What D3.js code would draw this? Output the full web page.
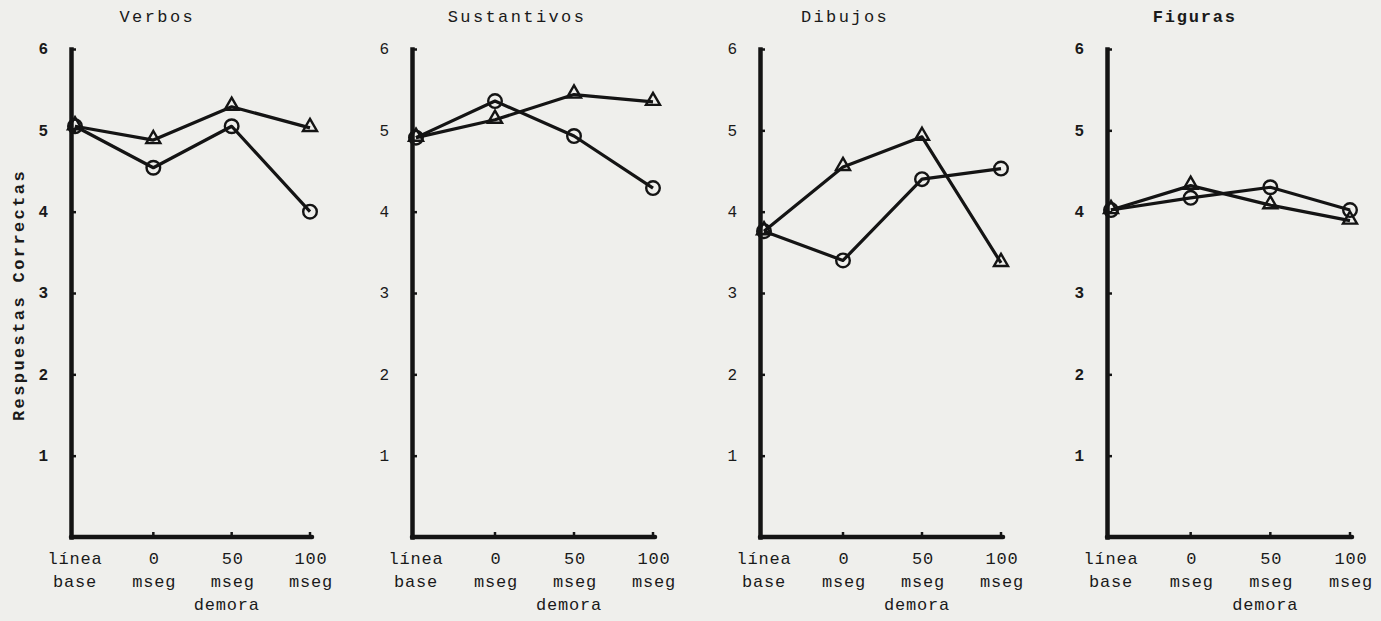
<!DOCTYPE html>
<html>
<head>
<meta charset="utf-8">
<script src="https://cdn.jsdelivr.net/npm/d3@7"></script>
<style>
  html, body { margin: 0; padding: 0; background: #efefec; }
  svg { display: block; }
  text { font-family: "Liberation Mono", "DejaVu Sans Mono", monospace; fill: #1a1a1a; }
</style>
</head>
<body>
<svg id="chart" width="1381" height="621"></svg>
<script>
// Panel titles
const panels = ["Verbos", "Sustantivos", "Dibujos", "Figuras"];

// Delay conditions (two-line tick labels)
const categories = ["base", "0", "50", "100"];
const catLine1 = ["línea", "0", "50", "100"];
const catLine2 = ["base", "mseg", "mseg", "mseg"];

// y-axis ticks
const yTicks = [1, 2, 3, 4, 5, 6];

// Correct responses per panel: triangle series and circle series
const verbosTri = [5.05, 4.88, 5.29, 5.03];
const verbosCirc = [5.05, 4.54, 5.05, 4.00];
const sustTri = [4.91, 5.13, 5.44, 5.35];
const sustCirc = [4.91, 5.36, 4.93, 4.29];
const dibTri = [3.76, 4.55, 4.92, 3.37];
const dibCirc = [3.76, 3.40, 4.40, 4.53];
const figTri = [4.02, 4.32, 4.08, 3.89];
const figCirc = [4.02, 4.17, 4.30, 4.02];

const triSeries = [verbosTri, sustTri, dibTri, figTri];
const circSeries = [verbosCirc, sustCirc, dibCirc, figCirc];

const svg = d3.select("#chart");
const ink = "#141414";

// layout
const y = d3.scaleLinear().domain([0, 6]).range([537, 49]);
const axisLeftX = [71, 412, 760, 1107];
const titleShift = [4, 22, 2, 4];
const panelSpan = [239, 241, 241, 243];

panels.forEach((title, i) => {
  const ax = axisLeftX[i];
  const x = d3.scalePoint().domain(categories).range([ax + 4, ax + panelSpan[i]]);
  const g = svg.append("g");

  // title
  g.append("text")
    .attr("x", x("0") + titleShift[i])
    .attr("y", 22)
    .attr("text-anchor", "middle")
    .style("font-size", "17px")
    .style("letter-spacing", i === 3 ? "1.8px" : "2.4px")
    .style("font-weight", i === 3 ? "bold" : "normal")
    .text(title);

  // y axis: thick spine with small inward ticks
  const yAxis = g.append("g")
    .attr("transform", `translate(${ax},0)`)
    .call(d3.axisRight(y).tickValues(yTicks).tickSize(5).tickSizeOuter(0).tickFormat(""));
  yAxis.select(".domain").attr("stroke", ink).attr("stroke-width", 4.5).attr("stroke-linecap", "square");
  yAxis.selectAll(".tick line").attr("stroke", ink).attr("stroke-width", 2.5);

  // y tick labels
  const yLab = g.append("g")
    .attr("transform", `translate(${ax},0)`)
    .call(d3.axisLeft(y).tickValues(yTicks).tickSize(0).tickPadding(23).tickFormat(d3.format("d")));
  yLab.select(".domain").remove();
  yLab.selectAll("text")
    .style("font-family", "'Liberation Mono', monospace")
    .style("font-size", "16px")
    .style("font-weight", (i === 0 || i === 3) ? "bold" : "normal")
    .attr("fill", ink)
    .attr("dy", "0.3em");

  // x axis baseline
  const xEnd = x("100") + 2;
  g.append("line")
    .attr("x1", ax).attr("x2", xEnd)
    .attr("y1", y(0)).attr("y2", y(0))
    .attr("stroke", ink).attr("stroke-width", 4.5).attr("stroke-linecap", "round");

  // small upward ticks at delay positions
  g.selectAll(".xt").data(categories.slice(1)).enter().append("line")
    .attr("x1", d => x(d)).attr("x2", d => x(d))
    .attr("y1", y(0)).attr("y2", y(0) - 5)
    .attr("stroke", ink).attr("stroke-width", 2.5);

  // x tick labels (two lines)
  const xl = g.selectAll(".xl").data(categories).enter().append("g")
    .attr("transform", d => `translate(${x(d) + (d === "base" ? 0 : 1)},0)`);
  xl.append("text").attr("y", 564).attr("text-anchor", "middle")
    .style("font-size", "17px").style("letter-spacing", "0.8px")
    .text((d, k) => catLine1[k]);
  xl.append("text").attr("y", 587).attr("text-anchor", "middle")
    .style("font-size", "17px").style("letter-spacing", "0.8px")
    .text((d, k) => catLine2[k]);

  g.append("text")
    .attr("x", x("50") - 5).attr("y", 610)
    .attr("text-anchor", "middle")
    .style("font-size", "17px").style("letter-spacing", "0.8px")
    .text("demora");

  const line = d3.line().x((d, k) => x(categories[k])).y(d => y(d));

  [triSeries[i], circSeries[i]].forEach(series => {
    g.append("path")
      .datum(series)
      .attr("d", line)
      .attr("fill", "none")
      .attr("stroke", ink)
      .attr("stroke-width", 3.2)
      .attr("stroke-linejoin", "round");
  });

  // triangle markers
  const tri = d3.symbol().type(d3.symbolTriangle).size(85);
  g.selectAll(".tri").data(triSeries[i]).enter().append("path")
    .attr("d", tri)
    .attr("transform", (d, k) => `translate(${x(categories[k])},${y(d) - 1})`)
    .attr("fill", "none")
    .attr("stroke", ink)
    .attr("stroke-width", 2.4);

  // circle markers
  g.selectAll(".circ").data(circSeries[i]).enter().append("circle")
    .attr("cx", (d, k) => x(categories[k]))
    .attr("cy", d => y(d))
    .attr("r", 6.8)
    .attr("fill", "none")
    .attr("stroke", ink)
    .attr("stroke-width", 2.4);
});

// shared y-axis title
svg.append("text")
  .attr("transform", `translate(24,${y(3) + 2}) rotate(-90)`)
  .attr("text-anchor", "middle")
  .style("font-size", "17px")
  .style("font-weight", "bold")
  .style("letter-spacing", "2.4px")
  .text("Respuestas Correctas");
</script>
</body>
</html>
